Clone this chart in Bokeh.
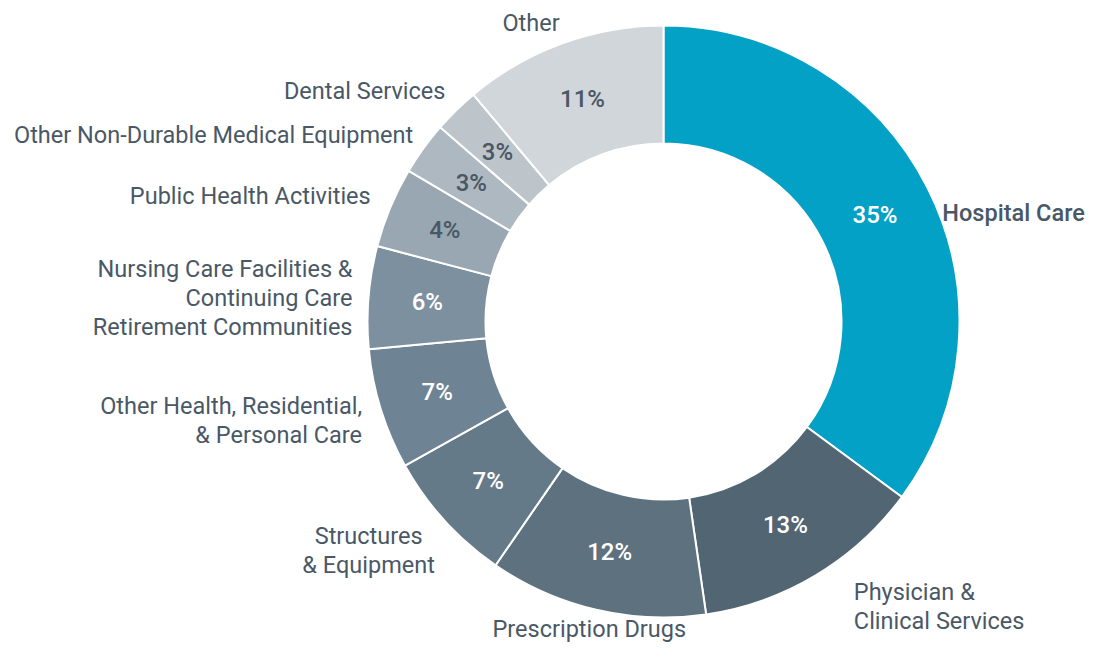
import math
from bokeh.plotting import figure
from bokeh.models import Range1d, ColumnDataSource
from bokeh.core.properties import value
from bokeh.embed import file_html
from bokeh.resources import INLINE

# ---- data ----
categories = ["Hospital Care", "Physician &\nClinical Services", "Prescription Drugs",
              "Structures\n& Equipment", "Other Health, Residential,\n& Personal Care",
              "Nursing Care Facilities &\nContinuing Care\nRetirement Communities",
              "Public Health Activities", "Other Non-Durable Medical Equipment",
              "Dental Services", "Other"]
shares = [35.1, 12.6, 11.9, 7.3, 6.6, 5.6, 4.4, 2.9, 2.5, 11.1]
pct_labels = ["35%", "13%", "12%", "7%", "7%", "6%", "4%", "3%", "3%", "11%"]

# ---- styles ----
colors = ["#03A1C6", "#526573", "#5D717F", "#647A89", "#6E8494", "#7D909F",
          "#99A7B2", "#AEB8C0", "#BDC5CB", "#D1D6DA"]
pct_colors = ["white"] * 6 + ["#4A5866"] * 4
TEXT = "#4A5866"
FONT = value("Roboto")
FONT_MED = value("'Roboto Medium', Roboto")

W, H = 1086, 647
CX, CY = 663, 326          # centre in data (pixel) units
R_IN, R_OUT = 178, 296
R_PCT = 237
R_LAB = 300
# label layout: alignment + nudge (dx right, dy down) from outer anchor point
lab_align = ["left", "left", "center", "center", "right", "right", "right", "right", "right", "center"]
lab_nudge = [(11, 27), (36, 28), (-6, 15), (-73, 27), (-15, 10), (-12, 1),
             (-16, -10), (-7, -11), (-8, -16), (-30, -17)]

total = sum(shares)
starts, ends, mids = [], [], []
cum = 0.0
for s in shares:
    a0 = math.pi / 2 - 2 * math.pi * cum / total
    cum += s
    a1 = math.pi / 2 - 2 * math.pi * cum / total
    starts.append(a0)
    ends.append(a1)
    mids.append((a0 + a1) / 2)

p = figure(width=W, height=H, output_backend="svg", toolbar_location=None,
           x_range=Range1d(0, W), y_range=Range1d(0, H), min_border=0)
p.axis.visible = False
p.grid.visible = False
p.outline_line_color = None
p.background_fill_color = "white"
p.border_fill_color = "white"

src = ColumnDataSource(dict(x=[CX] * len(shares), y=[CY] * len(shares),
                            start=starts, end=ends, color=colors))
p.annular_wedge(x="x", y="y", inner_radius=R_IN, outer_radius=R_OUT,
                start_angle="start", end_angle="end", direction="clock",
                fill_color="color", line_color="white", line_width=2, source=src)

# percent labels
psrc = ColumnDataSource(dict(
    x=[CX + R_PCT * math.cos(m) for m in mids],
    y=[CY + R_PCT * math.sin(m) for m in mids],
    t=pct_labels, c=pct_colors))
p.text(x="x", y="y", text="t", text_color="c", text_font=FONT_MED, text_font_size="24px",
       text_align="center", text_baseline="middle", source=psrc)

# category labels
for i, cat in enumerate(categories):
    m = mids[i]
    dx, dy = lab_nudge[i]
    x = CX + R_LAB * math.cos(m) + dx
    y = CY + R_LAB * math.sin(m) - dy
    p.text(x=[x], y=[y], text=[cat], text_color=TEXT,
           text_font=FONT_MED if i == 0 else FONT,
           text_font_size="23.5px", text_align=lab_align[i], text_baseline="middle",
           text_line_height=1.04)

open("out.html", "w").write(file_html(p, INLINE))
